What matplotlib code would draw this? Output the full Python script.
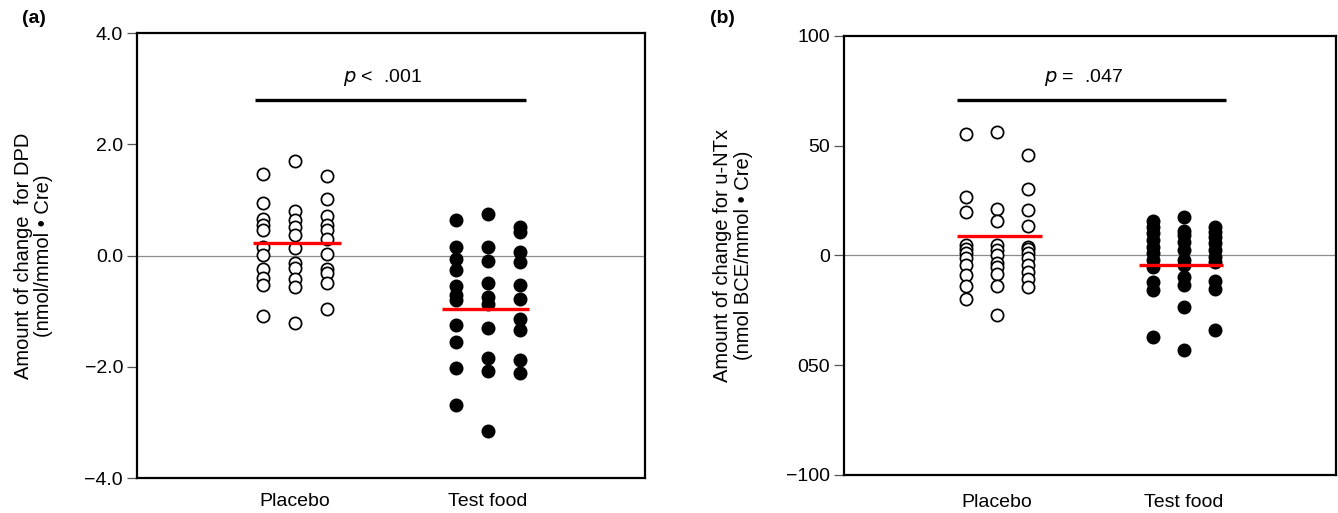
import numpy as np
import matplotlib
matplotlib.use("Agg")
import matplotlib.pyplot as plt

plt.rcParams['font.family'] = ['Liberation Sans', 'DejaVu Sans']

# categories and column offsets (three side-by-side dot columns per group)
groups = ['Placebo', 'Test food']

# panel (a): change in DPD
dpd_placebo = [
    [1.46, 0.94, 0.66, 0.55, 0.45, 0.16, 0.01, -0.25, -0.41, -0.53, -1.08],
    [1.70, 0.80, 0.63, 0.51, 0.37, 0.13, -0.14, -0.23, -0.43, -0.56, -1.22],
    [1.43, 1.01, 0.71, 0.55, 0.45, 0.29, 0.02, -0.25, -0.31, -0.50, -0.97],
]
dpd_test = [
    [0.63, 0.16, -0.07, -0.26, -0.54, -0.71, -0.80, -1.25, -1.55, -2.02, -2.68],
    [0.74, 0.16, -0.09, -0.50, -0.74, -0.87, -1.30, -1.84, -2.08, -3.15],
    [0.51, 0.43, 0.07, -0.12, -0.53, -0.78, -1.15, -1.34, -1.88, -2.12],
]
dpd_median = [0.22, -0.96]

# panel (b): change in u-NTx
ntx_placebo = [
    [55.4, 26.5, 20.0, 4.8, 2.8, 1.0, -1.3, -4.3, -8.9, -13.8, -20.0],
    [56.1, 21.2, 15.7, 4.8, 2.5, 0.2, -3.3, -5.1, -8.6, -13.8, -27.1],
    [45.8, 30.2, 20.7, 13.4, 3.7, 2.8, 1.3, -1.3, -4.3, -7.7, -10.8, -14.5],
]
ntx_test = [
    [15.9, 13.1, 10.1, 7.1, 4.0, 1.0, -2.0, -5.1, -11.9, -15.7, -37.3],
    [17.4, 11.3, 9.3, 6.3, 2.5, -2.0, -4.3, -9.7, -13.4, -23.6, -43.1],
    [13.1, 10.8, 8.6, 5.6, 2.5, -0.5, -2.8, -11.5, -15.4, -33.9],
]
ntx_median = [8.9, -4.5]

dpd_ticks = [4.0, 2.0, 0.0, -2.0, -4.0]
dpd_ticklabels = ['4.0', '2.0', '0.0', '\u22122.0', '\u22124.0']
ntx_ticks = [100, 50, 0, -50, -100]
ntx_ticklabels = ['100', '50', '0', '050', '\u2212100']

col_offsets = [-0.166, 0.0, 0.166]
# horizontal extent of the red median bars, relative to group centre
median_spans = [(-0.215, 0.24), (-0.24, 0.21)]


def draw_panel(ax, placebo, test, medians, ylim, ticks, ticklabels,
               sig_x, sig_y, ptext, text_y, ylabel, label_x, xpad):
    ax.axhline(0, color='#8c8c8c', lw=0.9, zorder=1)
    for gi, (cols, filled) in enumerate([(placebo, False), (test, True)]):
        xc = gi + 1
        for off, vals in zip(col_offsets, cols):
            ax.plot(np.full(len(vals), xc + off), vals, 'o', ms=8.8, mew=1.25,
                    mec='black', mfc='black' if filled else 'white',
                    zorder=3, clip_on=False)
        lo, hi = median_spans[gi]
        ax.plot([xc + lo, xc + hi], [medians[gi]] * 2, color='#ff0000',
                lw=2.4, zorder=4, solid_capstyle='butt')
    ax.plot(sig_x, [sig_y, sig_y], color='black', lw=2.4,
            solid_capstyle='butt')
    ax.text(np.mean(sig_x) - 0.04, text_y, ptext, ha='center', va='center',
            fontsize=14)
    ax.set_xlim(0.182, 2.813)
    ax.set_ylim(*ylim)
    ax.set_xticks([1, 2])
    ax.set_xticklabels(groups, fontsize=14)
    ax.set_yticks(ticks)
    ax.set_yticklabels(ticklabels, fontsize=14)
    ax.tick_params(axis='x', length=0, pad=xpad)
    ax.tick_params(axis='y', direction='out', length=7, width=0.9,
                   color='#555555', pad=3)
    for sp in ax.spines.values():
        sp.set_linewidth(1.6)
    ax.set_ylabel(ylabel, fontsize=14.5, linespacing=1.1)
    ax.yaxis.set_label_coords(label_x, 0.5)


fig = plt.figure(figsize=(13.38, 5.13), dpi=100)
ax1 = fig.add_axes([0.1024, 0.0682, 0.3797, 0.8674])
ax2 = fig.add_axes([0.6308, 0.0741, 0.3677, 0.8558])

draw_panel(ax1, dpd_placebo, dpd_test, dpd_median, (-4.0, 4.0),
           dpd_ticks, dpd_ticklabels, [0.793, 2.197], 2.80,
           r'$p$ <  .001', 3.20,
           'Amount of change  for DPD\n(nmol/mmol \u2022 Cre)', -0.165, 11)
draw_panel(ax2, ntx_placebo, ntx_test, ntx_median, (-100, 100),
           ntx_ticks, ntx_ticklabels, [0.785, 2.226], 70.8,
           r'$p$ =  .047', 81,
           'Amount of change for u-NTx\n(nmol BCE/mmol \u2022 Cre)', -0.185, 14)

fig.text(0.025, 0.963, '(a)', fontsize=14, fontweight='bold',
         ha='center', va='center')
fig.text(0.540, 0.963, '(b)', fontsize=14, fontweight='bold',
         ha='center', va='center')

fig.savefig('out.png', dpi=100)
